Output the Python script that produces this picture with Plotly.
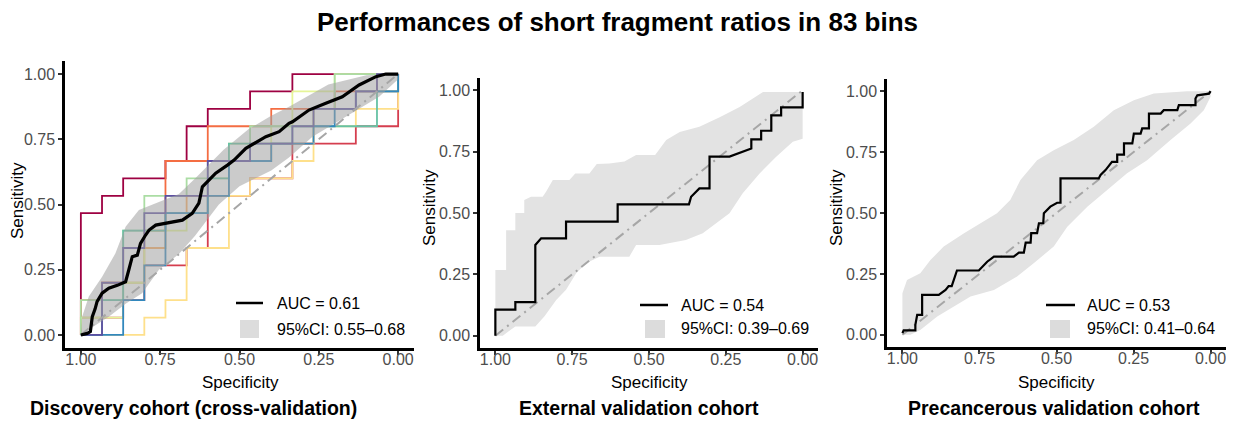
import plotly.graph_objects as go

W, H = 1234, 421          # browser window
OFF = 8                   # default page body margin
FW, FH = W - OFF, H - OFF # figure size so it fits exactly in the window
FONT = "Liberation Sans, Arial, Helvetica, sans-serif"

# ---------------- text ----------------
TITLE = "Performances of short fragment ratios in 83 bins"
PANEL_TITLES = ["Discovery cohort (cross-validation)",
                "External validation cohort",
                "Precancerous validation cohort"]
X_TITLE = "Specificity"
Y_TITLE = "Sensitivity"
TICK_VALUES = [0, 0.25, 0.5, 0.75, 1.0]
TICK_LABELS = ["0.00", "0.25", "0.50", "0.75", "1.00"]
AUC_LABELS = ["AUC = 0.61", "AUC = 0.54", "AUC = 0.53"]
CI_LABELS = ["95%CI: 0.55\u20130.68", "95%CI: 0.39\u20130.69", "95%CI: 0.41\u20130.64"]

# ---------------- panel 1: discovery (cross-validation) ----------------
DISC_SPEC = [1, 0.98, 0.97, 0.964, 0.955, 0.949, 0.933, 0.912, 0.885, 0.859,
             0.849, 0.838, 0.822, 0.812, 0.796, 0.785, 0.764, 0.733, 0.696, 0.68,
             0.649, 0.628, 0.617, 0.596, 0.575, 0.538, 0.517, 0.48, 0.417, 0.375,
             0.344, 0.333, 0.281, 0.228, 0.176, 0.123, 0.07, 0.039, 0]
DISC_SENS = [0, 0.006, 0.013, 0.07, 0.10, 0.128, 0.16, 0.179, 0.19, 0.204,
             0.249, 0.30, 0.306, 0.351, 0.383, 0.402, 0.421, 0.428, 0.434, 0.44,
             0.466, 0.505, 0.568, 0.594, 0.62, 0.651, 0.67, 0.715, 0.76, 0.779,
             0.811, 0.817, 0.862, 0.888, 0.913, 0.958, 0.99, 1.0, 1.0]
DISC_CI_UP_SPEC = [1, 0.996, 0.975, 0.933, 0.891, 0.859, 0.817, 0.754, 0.691, 0.64,
                   0.55, 0.47, 0.4, 0.344, 0.28, 0.22, 0.1, 0]
DISC_CI_UP_SENS = [0, 0.07, 0.147, 0.223, 0.313, 0.415, 0.479, 0.511, 0.54, 0.6,
                   0.71, 0.79, 0.84, 0.875, 0.92, 0.96, 0.995, 1]
DISC_CI_LO_SPEC = [1, 0.964, 0.912, 0.859, 0.807, 0.754, 0.691, 0.64, 0.565, 0.5,
                   0.4, 0.344, 0.27, 0.165, 0.06, 0]
DISC_CI_LO_SENS = [0, 0.03, 0.07, 0.12, 0.16, 0.25, 0.31, 0.38, 0.5, 0.57,
                   0.63, 0.68, 0.76, 0.836, 0.913, 0.98]

# per-fold ROC curves: counts of false positives / true positives (of 15 each)
FOLD_NEG = 15
FOLD_POS = 15
FOLD_FP = [
    [0, 0, 1, 1, 2, 2, 4, 4, 5, 5, 6, 6, 8, 8, 10, 10, 15],
    [0, 1, 1, 2, 2, 3, 3, 5, 5, 6, 6, 8, 8, 10, 10, 13, 13, 15, 15],
    [0, 0, 1, 1, 2, 2, 3, 3, 4, 4, 6, 6, 9, 9, 12, 12, 15, 15],
    [0, 0, 1, 1, 3, 3, 4, 4, 5, 5, 7, 7, 9, 9, 11, 11, 13, 13, 14, 14, 15],
    [0, 3, 3, 4, 4, 5, 5, 7, 7, 8, 8, 10, 10, 11, 11, 13, 13, 15, 15],
    [0, 0, 2, 2, 3, 3, 5, 5, 6, 6, 7, 7, 9, 9, 10, 10, 12, 12, 15],
    [0, 0, 2, 2, 3, 3, 5, 5, 6, 6, 8, 8, 11, 11, 12, 12, 15],
    [0, 1, 1, 2, 2, 4, 4, 6, 6, 7, 7, 10, 10, 14, 14, 15, 15],
    [0, 2, 2, 3, 3, 4, 4, 6, 6, 7, 7, 9, 9, 11, 11, 12, 12, 13, 13, 15, 15],
    [0, 1, 1, 2, 2, 3, 3, 4, 4, 6, 6, 8, 8, 10, 10, 11, 11, 13, 13, 14, 14, 15],
]
FOLD_TP = [
    [0, 7, 7, 8, 8, 9, 9, 10, 10, 12, 12, 13, 13, 14, 14, 15, 15],
    [0, 0, 1, 1, 2, 2, 4, 4, 5, 5, 8, 8, 9, 9, 11, 11, 12, 12, 15],
    [0, 2, 2, 3, 3, 5, 5, 6, 6, 10, 10, 12, 12, 13, 13, 14, 14, 15],
    [0, 1, 1, 3, 3, 5, 5, 7, 7, 8, 8, 10, 10, 11, 11, 13, 13, 14, 14, 15, 15],
    [0, 0, 1, 1, 2, 2, 5, 5, 8, 8, 9, 9, 10, 10, 12, 12, 13, 13, 15],
    [0, 1, 1, 3, 3, 6, 6, 7, 7, 9, 9, 11, 11, 12, 12, 14, 14, 15, 15],
    [0, 2, 2, 6, 6, 8, 8, 9, 9, 10, 10, 12, 12, 13, 13, 15, 15],
    [0, 0, 2, 2, 6, 6, 7, 7, 9, 9, 11, 11, 12, 12, 14, 14, 15],
    [0, 0, 2, 2, 4, 4, 7, 7, 8, 8, 10, 10, 11, 11, 12, 12, 13, 13, 14, 14, 15],
    [0, 0, 3, 3, 5, 5, 7, 7, 8, 8, 10, 10, 11, 11, 12, 12, 13, 13, 14, 14, 15, 15],
]
FOLD_COLORS = ["#9E0142", "#D53E4F", "#F46D43", "#FDAE61", "#FEE08B",
               "#E6F598", "#ABDDA4", "#66C2A5", "#3288BD", "#5E4FA2"]

# ---------------- panel 2: external validation ----------------
EXT_SPEC = [1, 1, 0.935, 0.935, 0.87, 0.87, 0.851, 0.77, 0.77, 0.602, 0.602, 0.37,
            0.363, 0.336, 0.303, 0.303, 0.238, 0.167, 0.167, 0.135, 0.135, 0.102,
            0.102, 0.07, 0.07, 0, 0]
EXT_SENS = [0, 0.106, 0.106, 0.137, 0.137, 0.37, 0.397, 0.397, 0.465, 0.465, 0.535,
            0.535, 0.566, 0.6, 0.6, 0.73, 0.73, 0.763, 0.8, 0.8, 0.835, 0.835, 0.898,
            0.898, 0.93, 0.93, 0.993]
EXT_CI_UP_SPEC = [1, 1, 0.965, 0.965, 0.935, 0.935, 0.906, 0.906, 0.884, 0.846, 0.835,
                  0.813, 0.759, 0.74, 0.694, 0.67, 0.629, 0.58, 0.542, 0.48, 0.444,
                  0.4, 0.336, 0.27, 0.205, 0.129, 0]
EXT_CI_UP_SENS = [0, 0.268, 0.268, 0.43, 0.43, 0.5, 0.5, 0.553, 0.566, 0.566, 0.587,
                  0.634, 0.634, 0.661, 0.661, 0.7, 0.702, 0.71, 0.736, 0.736, 0.797,
                  0.83, 0.851, 0.89, 0.932, 0.993, 0.993]
EXT_CI_LO_SPEC = [1, 0.976, 0.935, 0.87, 0.84, 0.802, 0.77, 0.737, 0.705, 0.661, 0.564,
                  0.542, 0.466, 0.38, 0.325, 0.281, 0.238, 0.195, 0.14, 0.086, 0.032, 0]
EXT_CI_LO_SENS = [0, 0, 0.038, 0.038, 0.079, 0.146, 0.187, 0.255, 0.295, 0.322, 0.322,
                  0.37, 0.37, 0.39, 0.417, 0.458, 0.499, 0.58, 0.661, 0.729, 0.79, 0.803]

# ---------------- panel 3: precancerous validation ----------------
PRE_SPEC = [1.0, 0.996, 0.958, 0.958, 0.952, 0.936, 0.936, 0.882, 0.86, 0.85,
            0.84, 0.833, 0.823, 0.752, 0.725, 0.703, 0.639, 0.622, 0.606, 0.6,
            0.584, 0.582, 0.563, 0.557, 0.543, 0.541, 0.52, 0.498, 0.487, 0.487,
            0.363, 0.357, 0.341, 0.32, 0.303, 0.303, 0.281, 0.281, 0.254, 0.249,
            0.227, 0.222, 0.2, 0.2, 0.162, 0.152, 0.108, 0.103, 0.049, 0.049,
            0.043, 0.005, 0]
PRE_SENS = [0.007, 0.018, 0.018, 0.041, 0.082, 0.082, 0.164, 0.164, 0.184, 0.2,
            0.2, 0.225, 0.264, 0.264, 0.3, 0.321, 0.321, 0.337, 0.337, 0.378,
            0.378, 0.417, 0.417, 0.458, 0.458, 0.499, 0.526, 0.542, 0.542, 0.642,
            0.642, 0.656, 0.676, 0.71, 0.71, 0.74, 0.74, 0.786, 0.786, 0.826,
            0.826, 0.847, 0.847, 0.908, 0.908, 0.922, 0.922, 0.943, 0.943, 0.97,
            0.983, 0.99, 1]
PRE_CI_UP_SPEC = [1, 1, 0.985, 0.942, 0.909, 0.866, 0.8, 0.747, 0.693, 0.65, 0.617,
                  0.563, 0.509, 0.444, 0.379, 0.314, 0.249, 0.184, 0.076, 0]
PRE_CI_UP_SENS = [0, 0.171, 0.225, 0.253, 0.307, 0.362, 0.417, 0.458, 0.499, 0.553,
                  0.635, 0.717, 0.758, 0.8, 0.854, 0.922, 0.963, 0.99, 1, 1]
PRE_CI_LO_SPEC = [1, 0.974, 0.942, 0.887, 0.833, 0.779, 0.703, 0.628, 0.574, 0.509,
                  0.465, 0.4, 0.335, 0.271, 0.206, 0.13, 0.065, 0.022, 0]
PRE_CI_LO_SENS = [0, 0, 0.02, 0.075, 0.116, 0.157, 0.184, 0.239, 0.294, 0.362, 0.444,
                  0.526, 0.594, 0.663, 0.717, 0.8, 0.867, 0.922, 0.977]

# chance line
DIAG_SPEC = [1, 0]
DIAG_SENS = [0, 1]

# ---------------- layout geometry (window pixels) ----------------
PANELS_PX = [(65, 414, 61, 348), (480, 818, 78, 348), (887, 1226, 79, 347)]
TITLE_CX = [193, 639, 1054]
XTITLE_CX = [240, 649, 1056]
YTITLE_X = [17, 430, 837]
YTITLE_CY = [201, 208, 208]
LEG_LINE = [(236, 263, 303), (640, 668, 305), (1046, 1075, 305)]
LEG_BOX = [(240, 259, 320, 338), (645, 665, 320, 338), (1050, 1070, 320, 338)]
LEG_TEXT_X = [275, 679, 1085]
LEG_TEXT_Y = [(303, 329), (305, 328), (305, 328)]


def px(x):
    return (x - OFF) / FW


def py(y):
    return 1 - (y - OFF) / FH


fig = go.Figure()

diag_line = dict(color="#A6A6A6", width=2, dash="10px,5px,2px,5px")


def add(panel, **kw):
    sfx = "" if panel == 0 else str(panel + 1)
    fig.add_trace(go.Scatter(xaxis="x" + sfx, yaxis="y" + sfx, showlegend=False,
                             hoverinfo="skip", **kw))


# panel 1
for fp, tp, col in zip(FOLD_FP, FOLD_TP, FOLD_COLORS):
    add(0, x=[1 - v / FOLD_NEG for v in fp], y=[v / FOLD_POS for v in tp],
        mode="lines", line=dict(color=col, width=1.8))
add(0, x=DISC_CI_UP_SPEC + DISC_CI_LO_SPEC[::-1],
    y=DISC_CI_UP_SENS + DISC_CI_LO_SENS[::-1],
    mode="lines", fill="toself", fillcolor="rgba(160,160,160,0.55)",
    line=dict(width=0, color="rgba(0,0,0,0)"))
add(0, x=DIAG_SPEC, y=DIAG_SENS, mode="lines", line=diag_line)
add(0, x=DISC_SPEC, y=DISC_SENS, mode="lines", line=dict(color="black", width=3.2))

# panel 2
add(1, x=EXT_CI_UP_SPEC + EXT_CI_LO_SPEC[::-1],
    y=EXT_CI_UP_SENS + EXT_CI_LO_SENS[::-1],
    mode="lines", fill="toself", fillcolor="#E3E3E3",
    line=dict(width=0, color="rgba(0,0,0,0)"))
add(1, x=DIAG_SPEC, y=DIAG_SENS, mode="lines", line=diag_line)
add(1, x=EXT_SPEC, y=EXT_SENS, mode="lines", line=dict(color="black", width=2.2))

# panel 3
add(2, x=PRE_CI_UP_SPEC + PRE_CI_LO_SPEC[::-1],
    y=PRE_CI_UP_SENS + PRE_CI_LO_SENS[::-1],
    mode="lines", fill="toself", fillcolor="#E3E3E3",
    line=dict(width=0, color="rgba(0,0,0,0)"))
add(2, x=DIAG_SPEC, y=DIAG_SENS, mode="lines", line=diag_line)
add(2, x=PRE_SPEC, y=PRE_SENS, mode="lines", line=dict(color="black", width=2.2))

layout = dict(
    width=FW, height=FH, margin=dict(l=0, r=0, t=0, b=0),
    paper_bgcolor="white", plot_bgcolor="white",
    font=dict(family=FONT, color="black"),
    showlegend=False,
)

axis_common = dict(
    showline=True, linecolor="black", linewidth=2.5,
    ticks="outside", ticklen=4, tickwidth=1.5, tickcolor="#333333",
    showgrid=False, zeroline=False, fixedrange=True,
    tickvals=TICK_VALUES, ticktext=TICK_LABELS,
    tickfont=dict(family=FONT, size=16, color="#4D4D4D"),
)

for i, (l, r, t, b) in enumerate(PANELS_PX):
    sfx = "" if i == 0 else str(i + 1)
    layout["xaxis" + sfx] = dict(axis_common, domain=[px(l), px(r)],
                                 range=[1.05, -0.05], anchor="y" + sfx,
                                 ticklabelstandoff=-9)
    layout["yaxis" + sfx] = dict(axis_common, domain=[py(b), py(t)],
                                 range=[-0.05, 1.05], anchor="x" + sfx)

fig.update_layout(**layout)

ann = [dict(text="<b>" + TITLE + "</b>", x=px(617), y=py(22), xref="paper", yref="paper",
            showarrow=False, xanchor="center", yanchor="middle",
            font=dict(family=FONT, size=26, color="black"))]
shapes = []
for i in range(3):
    ann.append(dict(text="<b>" + PANEL_TITLES[i] + "</b>", x=px(TITLE_CX[i]), y=py(408),
                    xref="paper", yref="paper", showarrow=False,
                    xanchor="center", yanchor="middle",
                    font=dict(family=FONT, size=19.5, color="black")))
    ann.append(dict(text=X_TITLE, x=px(XTITLE_CX[i]), y=py(382), xref="paper", yref="paper",
                    showarrow=False, xanchor="center", yanchor="middle",
                    font=dict(family=FONT, size=17, color="black")))
    ann.append(dict(text=Y_TITLE, x=px(YTITLE_X[i]), y=py(YTITLE_CY[i]), xref="paper",
                    yref="paper", showarrow=False, textangle=-90,
                    xanchor="center", yanchor="middle",
                    font=dict(family=FONT, size=17, color="black")))
    ann.append(dict(text=AUC_LABELS[i], x=px(LEG_TEXT_X[i]), y=py(LEG_TEXT_Y[i][0]),
                    xref="paper", yref="paper", showarrow=False,
                    xanchor="left", yanchor="middle",
                    font=dict(family=FONT, size=16, color="black")))
    ann.append(dict(text=CI_LABELS[i], x=px(LEG_TEXT_X[i]), y=py(LEG_TEXT_Y[i][1]),
                    xref="paper", yref="paper", showarrow=False,
                    xanchor="left", yanchor="middle",
                    font=dict(family=FONT, size=16, color="black")))
    x0, x1, yy = LEG_LINE[i]
    shapes.append(dict(type="line", xref="paper", yref="paper",
                       x0=px(x0), x1=px(x1), y0=py(yy), y1=py(yy),
                       line=dict(color="black", width=2.5)))
    bx0, bx1, by0, by1 = LEG_BOX[i]
    shapes.append(dict(type="rect", xref="paper", yref="paper",
                       x0=px(bx0), x1=px(bx1), y0=py(by1), y1=py(by0),
                       fillcolor="#DCDCDC", line=dict(width=0)))

fig.update_layout(annotations=ann, shapes=shapes)
fig.write_html("out.html")
